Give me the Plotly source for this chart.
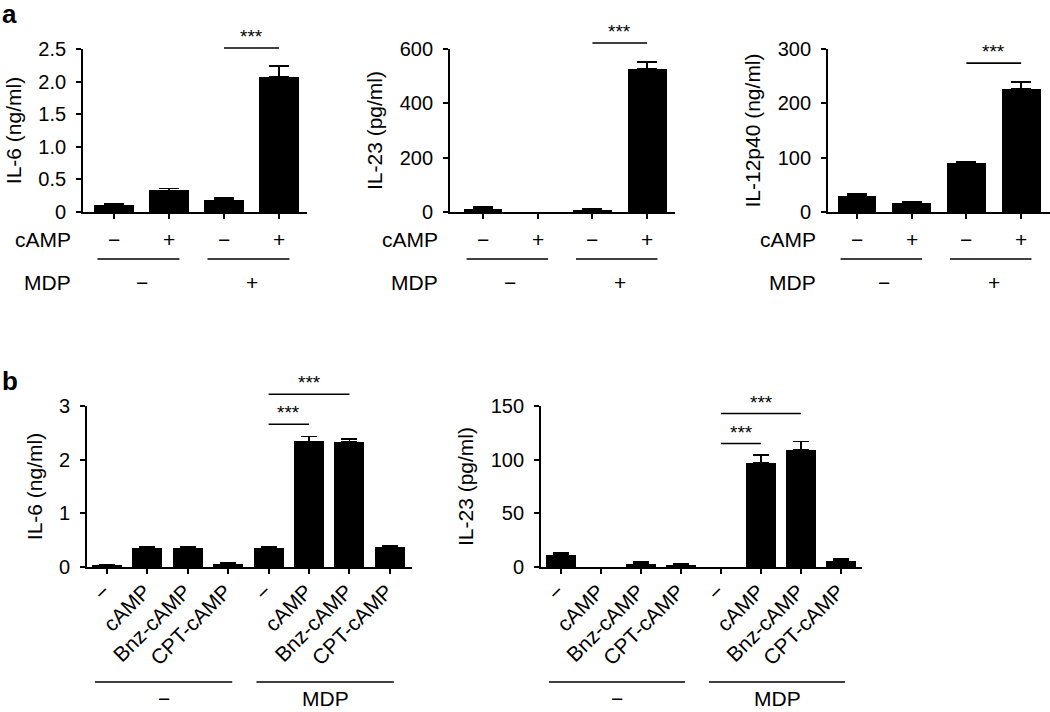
import plotly.graph_objects as go

W, H = 1050, 712
FONT = "Liberation Sans, Arial, sans-serif"

# ---------------- data ----------------
a_camp_signs = ["−", "+", "−", "+"]
a_mdp_signs = ["−", "+"]
a_groups = [(0, 1), (2, 3)]

il6_a = [0.10, 0.33, 0.19, 2.07]
il6_a_err = [0.02, 0.03, 0.02, 0.17]
il23_a = [12, 0, 7, 526]
il23_a_err = [6, 0, 5, 27]
il12_a = [30, 17, 91, 227]
il12_a_err = [3, 2, 2, 12]

b_labels = ["−", "cAMP", "Bnz-cAMP", "CPT-cAMP", "−", "cAMP", "Bnz-cAMP", "CPT-cAMP"]
b_group_labels = ["−", "MDP"]
b_groups = [(0, 3), (4, 7)]

il6_b = [0.025, 0.354, 0.354, 0.062, 0.354, 2.34, 2.33, 0.378]
il6_b_err = [0.02, 0.025, 0.02, 0.02, 0.015, 0.09, 0.055, 0.015]
il23_b = [10.9, 0, 3.1, 2.2, 0, 97, 109, 5.9]
il23_b_err = [2, 0, 1.5, 1, 0, 7.3, 8, 1.2]

# ---------------- layout specs (pixel geometry) ----------------
panels = [
    dict(vals=il6_a, err=il6_a_err, title="IL-6 (ng/ml)", xdom=(83, 307), ydom=(49, 212),
         c0=114, sp=55, ymax=2.5, tickvals=[0, 0.5, 1, 1.5, 2, 2.5],
         ticktext=["0", "0.5", "1.0", "1.5", "2.0", "2.5"], sig=[(2, 3, 2.515)], kind="a", bw=0.71),
    dict(vals=il23_a, err=il23_a_err, title="IL-23 (pg/ml)", xdom=(450, 675), ydom=(49, 212),
         c0=483, sp=54.7, ymax=600, tickvals=[0, 200, 400, 600],
         ticktext=["0", "200", "400", "600"], sig=[(2, 3, 622)], kind="a", bw=0.71),
    dict(vals=il12_a, err=il12_a_err, title="IL-12p40 (ng/ml)", xdom=(828, 1050), ydom=(49, 212),
         c0=857, sp=54.7, ymax=300, tickvals=[0, 100, 200, 300],
         ticktext=["0", "100", "200", "300"], sig=[(2, 3, 274)], kind="a", bw=0.71),
    dict(vals=il6_b, err=il6_b_err, title="IL-6 (ng/ml)", xdom=(87, 412), ydom=(406, 567),
         c0=107, sp=40.4, ymax=3, tickvals=[0, 1, 2, 3],
         ticktext=["0", "1", "2", "3"], sig=[(4, 5, 2.66), (4, 6, 3.22)], kind="b", bw=0.74),
    dict(vals=il23_b, err=il23_b_err, title="IL-23 (pg/ml)", xdom=(541, 862), ydom=(406, 567),
         c0=561, sp=40, ymax=150, tickvals=[0, 50, 100, 150],
         ticktext=["0", "50", "100", "150"], sig=[(4, 5, 115), (4, 6, 143)], kind="b", bw=0.74),
]

fig = go.Figure()
shapes = []
annotations = []
layout = {}

LW = 1.8
TXT = dict(family=FONT, size=21, color="black")

for k, p in enumerate(panels, start=1):
    sfx = "" if k == 1 else str(k)
    xname, yname = "x" + sfx, "y" + sfx
    n = len(p["vals"])
    xs = list(range(n))
    # zero-height bars (and their zero errors) are not drawn
    bar_vals = [v if v > 0 else None for v in p["vals"]]
    err_plus = [e if e > 0 else None for e in p["err"]]
    fig.add_trace(go.Bar(
        x=xs, y=bar_vals, xaxis=xname, yaxis=yname, width=p["bw"],
        marker=dict(color="black", line=dict(width=0)),
        error_y=dict(type="data", array=err_plus, arrayminus=[0] * n, symmetric=False,
                     color="black", thickness=LW, width=10 if p["kind"] == "a" else 8),
        showlegend=False, hoverinfo="skip"))

    x0 = (p["xdom"][0] - p["c0"]) / p["sp"]
    x1 = (p["xdom"][1] - p["c0"]) / p["sp"]
    xaxis = dict(domain=[p["xdom"][0] / W, p["xdom"][1] / W], range=[x0, x1], anchor=yname,
                 showline=True, linecolor="black", linewidth=LW, ticks="outside", ticklen=5,
                 tickwidth=LW, tickcolor="black", tickvals=xs, showgrid=False, zeroline=False,
                 fixedrange=True, automargin=False)
    if p["kind"] == "a":
        xaxis["showticklabels"] = False
    else:
        xaxis.update(ticktext=b_labels, tickangle=-45, ticklabelstandoff=-3, ticklabelshift=-3,
                     tickfont=dict(family=FONT, size=21, color="black"))
    yaxis = dict(domain=[1 - p["ydom"][1] / H, 1 - p["ydom"][0] / H], range=[0, p["ymax"]],
                 anchor=xname, showline=True, linecolor="black", linewidth=LW, ticks="outside",
                 ticklen=5, tickwidth=LW, tickcolor="black", tickvals=p["tickvals"],
                 ticktext=p["ticktext"], showgrid=False, zeroline=False, fixedrange=True,
                 automargin=False, ticklabelstandoff=6,
                 tickfont=dict(family=FONT, size=20, color="black"),
                 title=dict(text=p["title"], font=dict(family=FONT, size=21, color="black"),
                            standoff=11))
    layout["xaxis" + sfx] = xaxis
    layout["yaxis" + sfx] = yaxis

    # significance brackets
    for (i, j, lvl) in p["sig"]:
        shapes.append(dict(type="line", xref=xname, yref=yname + " domain", x0=i, x1=j,
                           y0=lvl / p["ymax"], y1=lvl / p["ymax"],
                           line=dict(color="black", width=1.6)))
        annotations.append(dict(xref=xname, yref=yname + " domain", x=(i + j) / 2,
                                y=lvl / p["ymax"], yanchor="bottom", xanchor="center",
                                text="***", showarrow=False, yshift=-1,
                                font=dict(family=FONT, size=19, color="black")))

    if p["kind"] == "a":
        annotations.append(dict(xref=xname + " domain", yref="paper", x=0, y=1 - 239 / H,
                                xanchor="right", yanchor="middle", xshift=-10, text="cAMP",
                                showarrow=False, font=TXT))
        for i, s in enumerate(a_camp_signs):
            annotations.append(dict(xref=xname, yref="paper", x=i, y=1 - 239 / H,
                                    xanchor="center", yanchor="middle", text=s, showarrow=False,
                                    font=TXT))
        annotations.append(dict(xref=xname + " domain", yref="paper", x=0, y=1 - 282 / H,
                                xanchor="right", yanchor="middle", xshift=-10, text="MDP",
                                showarrow=False, font=TXT))
        for (i, j), s in zip(a_groups, a_mdp_signs):
            shapes.append(dict(type="line", xref=xname, yref="paper", x0=i - 0.3, x1=j + 0.19,
                               y0=1 - 259 / H, y1=1 - 259 / H,
                               line=dict(color="black", width=1.6)))
            annotations.append(dict(xref=xname, yref="paper", x=(i + j) / 2, y=1 - 282 / H,
                                    xanchor="center", yanchor="middle", text=s, showarrow=False,
                                    font=TXT))
    else:
        for (i, j), s in zip(b_groups, b_group_labels):
            shapes.append(dict(type="line", xref=xname, yref="paper", x0=i - 0.3, x1=j + 0.1,
                               y0=1 - 682 / H, y1=1 - 682 / H,
                               line=dict(color="black", width=1.6)))
            annotations.append(dict(xref=xname, yref="paper", x=(i - 0.3 + j + 0.1) / 2,
                                    y=0, xanchor="center", yanchor="bottom", text=s,
                                    showarrow=False, font=TXT))

# panel letters
annotations.append(dict(xref="paper", yref="paper", x=0, y=1, xanchor="left",
                        yanchor="top", yshift=3, text="<b>a</b>", showarrow=False,
                        font=dict(family=FONT, size=26, color="black")))
annotations.append(dict(xref="paper", yref="paper", x=0, y=1 - 381 / H, xanchor="left",
                        yanchor="middle", text="<b>b</b>", showarrow=False,
                        font=dict(family=FONT, size=26, color="black")))

fig.update_layout(template="none", width=W, height=H, margin=dict(l=0, r=0, t=0, b=0, pad=0),
                  paper_bgcolor="white", plot_bgcolor="white", bargap=0,
                  shapes=shapes, annotations=annotations,
                  font=dict(family=FONT, color="black"), **layout)

fig.write_html("out.html", config={"displayModeBar": False},
               post_script="document.body.style.margin='0';document.body.style.overflow='hidden';")
